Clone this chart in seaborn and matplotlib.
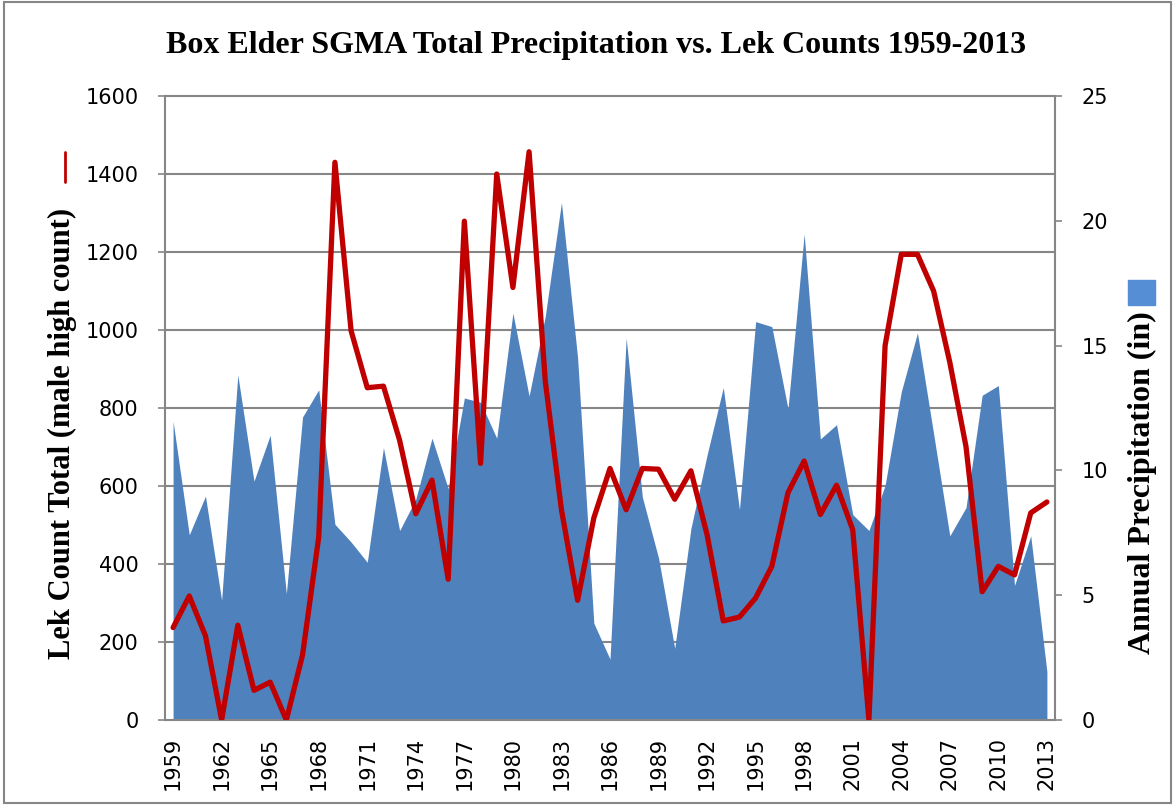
import numpy as np
import pandas as pd
import matplotlib
matplotlib.use("Agg")
import matplotlib.pyplot as plt
from matplotlib.patches import Rectangle
from matplotlib.lines import Line2D
import seaborn as sns

# values
years = list(range(1959, 2014))
lek_counts = [237, 318, 216, 0, 243, 76, 97, 0, 167, 469,
              1430, 998, 852, 856, 717, 529, 615, 361, 1279, 658,
              1400, 1109, 1457, 869, 539, 307, 518, 645, 539, 645,
              643, 566, 639, 475, 254, 264, 313, 394, 583, 664,
              527, 602, 488, 0, 960, 1194, 1194, 1100, 917, 701,
              329, 394, 372, 531, 559]
precip_in = [11.97, 7.42, 8.97, 4.80, 13.82, 9.57, 11.41, 5.06, 12.14, 13.23,
             7.84, 7.13, 6.32, 10.91, 7.59, 8.85, 11.29, 9.27, 12.90, 12.73,
             11.29, 16.30, 12.98, 16.18, 20.73, 14.50, 3.88, 2.44, 15.31, 8.93,
             6.49, 2.87, 7.67, 10.62, 13.32, 8.43, 15.96, 15.76, 12.47, 19.47,
             11.26, 11.83, 8.23, 7.59, 9.40, 13.15, 15.51, 11.46, 7.38, 8.51,
             13.01, 13.40, 5.39, 7.38, 1.94]

df = pd.DataFrame({"year": years, "lek": lek_counts, "precip": precip_in})

sns.set_style("white")
plt.rcParams["font.family"] = ["DejaVu Sans"]
plt.rcParams["text.color"] = "black"
plt.rcParams["xtick.labelcolor"] = "black"
plt.rcParams["ytick.labelcolor"] = "black"

GRID = "#868686"
BLUE = "#4F81BD"
RED = "#C00000"

fig = plt.figure(figsize=(11.75, 8.05), dpi=100)
ax = fig.add_axes([165 / 1175, 1 - 720 / 805, 890 / 1175, 624 / 805])

# precipitation area on the bottom axes (right-hand scale)
ax.fill_between(df["year"], df["precip"], 0, color=BLUE, linewidth=0, zorder=2)
ax.set_ylim(0, 25)
ax.set_xlim(1958.5, 2013.5)
ax.set_yticks(np.arange(0, 26, 5))
ax.set_yticks(np.arange(0, 25.01, 25 / 8), minor=True)
ax.yaxis.grid(True, which="minor", color=GRID, linewidth=1.5, zorder=0)
ax.set_axisbelow(True)

label_years = years[::3]
ax.set_xticks(label_years)
ax.set_xticklabels([str(y) for y in label_years], rotation=90, fontsize=15)
ax.set_xticks(np.arange(1958.5, 2014, 1), minor=True)
ax.tick_params(axis="x", which="major", length=0, pad=12)
ax.tick_params(axis="x", which="minor", direction="out", length=6, width=1.2,
               color=GRID)
for side in ["left", "right", "bottom", "top"]:
    ax.spines[side].set_color(GRID)
    ax.spines[side].set_linewidth(1.5)

# lek counts line on the twin axes (left-hand scale)
ax2 = ax.twinx()
sns.lineplot(data=df, x="year", y="lek", ax=ax2, color=RED, linewidth=3.8,
             zorder=3)
ax2.set_ylim(0, 1600)
ax2.set_yticks(np.arange(0, 1601, 200))
ax2.yaxis.tick_left()
ax2.tick_params(axis="y", direction="out", length=5, width=1.2, color=GRID,
                labelsize=15, pad=14, left=True, right=False,
                labelleft=True, labelright=False)
ax2.set_ylabel("")
ax2.set_xlabel("")
ax.set_xlabel("")
for side in ["left", "right", "bottom", "top"]:
    ax2.spines[side].set_visible(False)

# twinx moved the precipitation ticks to the left, put them back on the right
ax.yaxis.tick_right()
ax.tick_params(axis="y", which="major", direction="out", length=5, width=1.2,
               color=GRID, labelsize=15, pad=14, right=True, left=False,
               labelright=True, labelleft=False)
ax.tick_params(axis="y", which="minor", length=0, left=False, right=False)

# titles and axis labels
fig.text(0.507, 0.944, "Box Elder SGMA Total Precipitation vs. Lek Counts 1959-2013",
         ha="center", va="center", fontsize=23, fontweight="bold",
         family="Liberation Serif")
fig.text(62 / 1175, 0.462, "Lek Count Total (male high count)", rotation=90,
         ha="center", va="center", fontsize=22, fontweight="bold",
         family="Liberation Serif")
fig.text(1142 / 1175, 0.401, "Annual Precipitation (in)", rotation=90,
         ha="center", va="center", fontsize=23, fontweight="bold",
         family="Liberation Serif")

# legend keys as in the original (rotated with the axis titles)
fig.add_artist(Line2D([65 / 1175, 65 / 1175], [1 - 182 / 805, 1 - 152 / 805],
                      color=RED, linewidth=2, transform=fig.transFigure))
fig.add_artist(Rectangle((1128 / 1175, 1 - 305 / 805), 27 / 1175, 25 / 805,
                         color="#558ED5", transform=fig.transFigure))

# outer frame
fig.add_artist(Rectangle((0.003, 0.003), 0.994, 0.994, fill=False,
                         edgecolor=GRID, linewidth=1.5,
                         transform=fig.transFigure))

fig.savefig("out.png", dpi=100)
